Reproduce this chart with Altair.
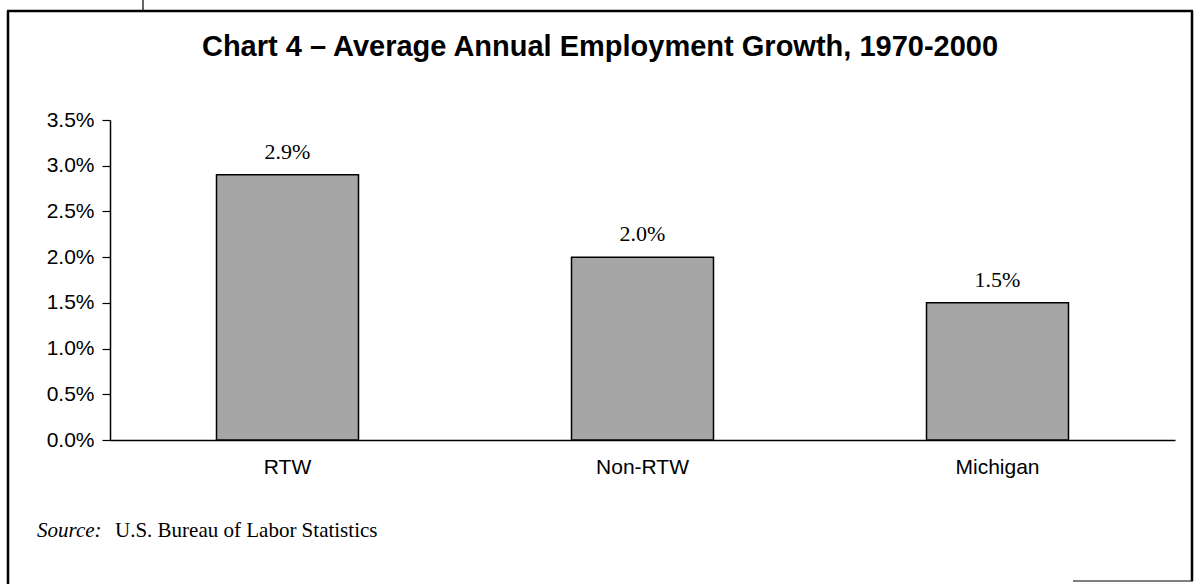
import altair as alt
import pandas as pd

# Average annual employment growth, 1970-2000 (percent)
categories = ["RTW", "Non-RTW", "Michigan"]
growth = [2.9, 2.0, 1.5]
value_labels = ["2.9%", "2.0%", "1.5%"]
y_ticks = [0.0, 0.5, 1.0, 1.5, 2.0, 2.5, 3.0, 3.5]

title_text = "Chart 4 \u2013 Average Annual Employment Growth, 1970-2000"
source_label = "Source:"
source_text = "U.S. Bureau of Labor Statistics"

SANS = "Liberation Sans"
SERIF = "Liberation Serif"

df = pd.DataFrame({"cat": categories, "growth": growth, "label": value_labels})

W, H = 1065, 320

x_enc = alt.X(
    "cat:N",
    sort=categories,
    scale=alt.Scale(paddingInner=0.6, paddingOuter=0.3),
    axis=alt.Axis(
        title=None, labelAngle=0, labelFont=SANS, labelFontSize=21,
        labelColor="black", labelPadding=16, ticks=False,
        domainColor="black", domainWidth=1.5,
    ),
)
y_enc = alt.Y(
    "growth:Q",
    scale=alt.Scale(domain=[0, 3.5], nice=False),
    axis=alt.Axis(
        title=None, values=y_ticks, grid=False,
        labelExpr="format(datum.value, '.1f') + '%'",
        labelFont=SANS, labelFontSize=21, labelColor="black",
        labelPadding=8, tickSize=8, tickColor="black", tickWidth=1.2,
        domainColor="black", domainWidth=1.5,
    ),
)

bars = alt.Chart(df).mark_bar(
    color="#a6a6a6", stroke="black", strokeWidth=1.5
).encode(x=x_enc, y=y_enc)

labels = alt.Chart(df).mark_text(
    font=SERIF, fontSize=22, baseline="alphabetic", dy=-16, color="black"
).encode(x=alt.X("cat:N", sort=categories), y="growth:Q", text="label:N")

note = pd.DataFrame({"t": [title_text]})
title = alt.Chart(note).mark_text(
    font=SANS, fontSize=29, fontWeight="bold", align="center",
    baseline="alphabetic", color="black",
).encode(x=alt.value(490), y=alt.value(-64), text="t:N")

src1 = alt.Chart(pd.DataFrame({"t": [source_label]})).mark_text(
    font=SERIF, fontSize=21, fontStyle="italic", align="left",
    baseline="alphabetic", color="black",
).encode(x=alt.value(-73), y=alt.value(417), text="t:N")

src2 = alt.Chart(pd.DataFrame({"t": [source_text]})).mark_text(
    font=SERIF, fontSize=21, align="left", baseline="alphabetic", color="black",
).encode(x=alt.value(5), y=alt.value(417), text="t:N")

# Surrounding frame (open at the bottom, as on the printed page)
frame_df = pd.DataFrame({"k": [0]})
frame_style = dict(color="black", strokeWidth=2.5)
top_edge = alt.Chart(frame_df).mark_rule(**frame_style).encode(
    x=alt.value(-103), x2=alt.value(1083), y=alt.value(-109))
left_edge = alt.Chart(frame_df).mark_rule(**frame_style).encode(
    x=alt.value(-102), y=alt.value(-109), y2=alt.value(470))
right_edge = alt.Chart(frame_df).mark_rule(**frame_style).encode(
    x=alt.value(1082), y=alt.value(-109), y2=alt.value(461))
bottom_stub = alt.Chart(frame_df).mark_rule(color="black", strokeWidth=1.2).encode(
    x=alt.value(963), x2=alt.value(1083), y=alt.value(461))
top_stub = alt.Chart(frame_df).mark_rule(color="black", strokeWidth=1.2).encode(
    x=alt.value(33), y=alt.value(-125), y2=alt.value(-109))

chart = alt.layer(
    bars, labels, title, src1, src2,
    top_edge, left_edge, right_edge, bottom_stub, top_stub,
).properties(
    width=W, height=H,
    autosize=alt.AutoSizeParams(type="none"),
    padding={"left": 110, "top": 120, "right": 21, "bottom": 144},
    background="white",
).configure_view(stroke=None)

chart.save("out.html", embed_options={"renderer": "svg", "actions": False})
